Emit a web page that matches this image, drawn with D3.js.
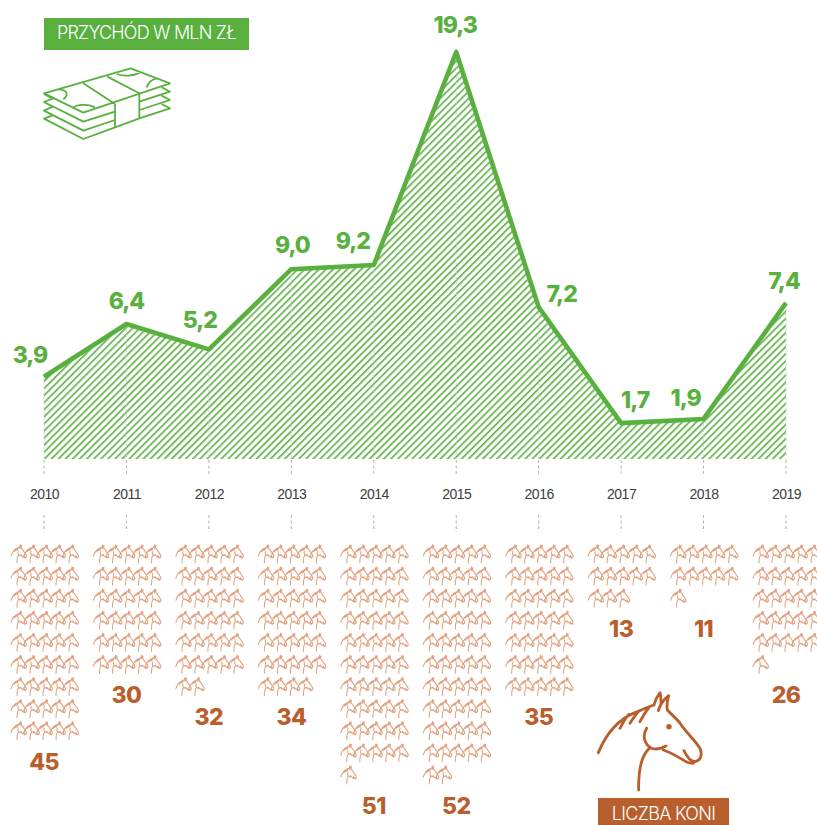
<!DOCTYPE html>
<html lang="pl">
<head>
<meta charset="utf-8">
<title>Przychód i liczba koni</title>
<script src="https://cdn.jsdelivr.net/npm/d3@7"></script>
<style>
  html, body { margin: 0; padding: 0; background: #fff; }
  svg { display: block; font-family: Inter, "Liberation Sans", sans-serif; }
  .tick text { font-size: 14px; fill: #3d3d3d; letter-spacing: -0.5px; }
</style>
</head>
<body>
<svg id="chart" width="817" height="825"></svg>
<script>
// dane
const years = [2010, 2011, 2012, 2013, 2014, 2015, 2016, 2017, 2018, 2019];
const revenue = [3.9, 6.4, 5.2, 9.0, 9.2, 19.3, 7.2, 1.7, 1.9, 7.4];
const horses = [45, 30, 32, 34, 51, 52, 35, 13, 11, 26];

// przesunięcia etykiet względem punktu linii
const labelShift = [[-14, -20], [0, -21], [-9, -28], [1, -22], [-21, -22], [-1, -25], [23, -11], [14, -21], [-18, -19], [-2, -20]];

const GREEN = "#59b03f";
const RUST = "#b95f2e";
const PER_ROW = 5;
const ROW_STEP = 22.1;
const HORSE_STEP = 13;
const HORSES_TOP = 545;

const svg = d3.select("#chart");
const x = d3.scalePoint().domain(years).range([44, 786]);
const y = d3.scaleLinear().domain([0, 19.3]).range([459, 52]);

// kreskowanie pod linią
const defs = svg.append("defs");
defs.append("pattern")
  .attr("id", "hatch")
  .attr("patternUnits", "userSpaceOnUse")
  .attr("width", 5)
  .attr("height", 5)
  .attr("patternTransform", "rotate(45)")
  .append("rect")
  .attr("width", 1.7)
  .attr("height", 5)
  .attr("fill", "#62b44b");

// koń w układzie dużej ikony
const horsePath = [
  "M55 218C75 170 110 120 165 98C185 90 205 80 222 75",
  "M222 75C226 60 232 48 240 38C243 48 243 60 243 70",
  "M235 92C240 75 252 58 266 47C262 62 260 78 262 90C275 105 290 115 300 130C320 160 345 180 360 205C368 225 362 242 345 245C330 245 318 225 312 212",
  "M250 210C275 218 295 232 310 240C320 248 330 250 340 250",
  "M200 145C185 170 195 195 215 205C230 210 245 205 258 198",
  "M208 205C185 225 175 270 176 330",
  "M120 145C128 130 135 115 147 103",
  "M150 130C158 118 165 105 177 93",
  "M180 125C188 110 195 97 206 84"
].join("");

defs.append("path")
  .attr("id", "horse")
  .attr("d", horsePath)
  .attr("fill", "none")
  .attr("stroke-linecap", "round")
  .attr("stroke-linejoin", "round");

// pole i linia przychodu
const area = d3.area().x((d, i) => x(years[i])).y0(y(0)).y1(d => y(d));
const line = d3.line().x((d, i) => x(years[i])).y(d => y(d));

svg.append("path").datum(revenue).attr("d", area).attr("fill", "url(#hatch)");

svg.append("g")
  .selectAll("line")
  .data(revenue)
  .join("line")
  .attr("x1", (d, i) => x(years[i]))
  .attr("x2", (d, i) => x(years[i]))
  .attr("y1", d => y(d))
  .attr("y2", y(0))
  .attr("stroke", "#cfcfcf")
  .attr("stroke-width", 0.8)
  .attr("stroke-dasharray", "3 2");

svg.append("path")
  .datum(revenue)
  .attr("d", line)
  .attr("fill", "none")
  .attr("stroke", GREEN)
  .attr("stroke-width", 4.6)
  .attr("stroke-linejoin", "round");

svg.append("g")
  .selectAll("text")
  .data(revenue)
  .join("text")
  .attr("x", (d, i) => x(years[i]) + labelShift[i][0])
  .attr("y", (d, i) => y(d) + labelShift[i][1])
  .attr("text-anchor", "middle")
  .attr("dominant-baseline", "middle")
  .attr("font-size", 23)
  .attr("font-weight", 800)
  .attr("letter-spacing", -1)
  .attr("fill", GREEN)
  .text(d => d.toFixed(1).replace(".", ","));

// oś lat
const axis = d3.axisBottom(x).tickSize(0).tickPadding(0).tickFormat(d3.format("d"));
const axisG = svg.append("g").attr("transform", "translate(0,494)").call(axis);
axisG.select(".domain").remove();
axisG.selectAll("text").attr("dy", "0.35em").attr("y", 0);

[[460, 476], [515, 532]].forEach(([a, b]) => {
  svg.append("g")
    .selectAll("line")
    .data(years)
    .join("line")
    .attr("x1", d => x(d))
    .attr("x2", d => x(d))
    .attr("y1", a)
    .attr("y2", b)
    .attr("stroke", "#a9a9a9")
    .attr("stroke-width", 0.9)
    .attr("stroke-dasharray", "3 2.5");
});

// konie: po 5 w rzędzie
const cols = svg.append("g")
  .selectAll("g")
  .data(horses)
  .join("g")
  .attr("transform", (d, i) => `translate(${x(years[i])},0)`);

cols.selectAll("use")
  .data(d => d3.range(d))
  .join("use")
  .attr("href", "#horse")
  .attr("transform", k => {
    const col = k % PER_ROW;
    const row = Math.floor(k / PER_ROW);
    const sx = -33 + HORSE_STEP * col;
    const sy = HORSES_TOP + ROW_STEP * row;
    return `translate(${sx - 55 * 0.05},${sy - 38 * 0.061}) scale(0.05,0.061)`;
  })
  .attr("stroke", "#e2a27f")
  .attr("stroke-width", 21)
  .attr("fill", "none");

cols.append("text")
  .attr("y", d => 564.5 + ROW_STEP * Math.ceil(d / PER_ROW))
  .attr("text-anchor", "middle")
  .attr("dominant-baseline", "middle")
  .attr("font-size", 23)
  .attr("font-weight", 800)
  .attr("letter-spacing", -0.6)
  .attr("fill", RUST)
  .text(d => d);

// duży koń i podpis
svg.append("use")
  .attr("href", "#horse")
  .attr("transform", "translate(580,680) scale(0.3333)")
  .attr("stroke", RUST)
  .attr("stroke-width", 8.5)
  .attr("fill", "none");
svg.append("circle").attr("cx", 669).attr("cy", 726.7).attr("r", 2.7).attr("fill", RUST);

svg.append("rect").attr("x", 598).attr("y", 798).attr("width", 131).attr("height", 27).attr("fill", RUST);
svg.append("text")
  .attr("x", 663.5)
  .attr("y", 815)
  .attr("text-anchor", "middle")
  .attr("dominant-baseline", "middle")
  .attr("font-size", 18)
  .attr("font-weight", 300)
  .attr("letter-spacing", -0.7)
  .attr("fill", "#fff")
  .text("LICZBA KONI");

// nagłówek przychodu
svg.append("rect").attr("x", 44).attr("y", 18).attr("width", 205).attr("height", 32).attr("fill", GREEN);
svg.append("text")
  .attr("x", 146.5)
  .attr("y", 34)
  .attr("text-anchor", "middle")
  .attr("dominant-baseline", "middle")
  .attr("font-size", 18)
  .attr("font-weight", 300)
  .attr("letter-spacing", -0.8)
  .attr("fill", "#fff")
  .text("PRZYCHÓD W MLN ZŁ");

// ikona banknotów
const money = [
  "M132 280L392 205L510 250L250 338Z",
  "M250 250L345 312M322 230L418 280",
  "M132 282L158 296L132 306L250 365L345 335",
  "M132 306L158 320L132 332L250 392L345 360",
  "M132 332L158 346L132 356L250 417L345 382L418 355L510 325L485 312",
  "M345 312V382M418 280V355",
  "M418 305L510 275L485 262M418 330L510 300L485 287",
  "M175 268C205 270 205 285 190 298",
  "M218 325C230 312 265 312 285 322",
  "M350 222C370 230 400 228 420 218",
  "M440 262C445 248 455 238 470 236"
].join("");
svg.append("path")
  .attr("d", money)
  .attr("transform", "scale(0.3333)")
  .attr("fill", "none")
  .attr("stroke", GREEN)
  .attr("stroke-width", 5.4)
  .attr("stroke-linejoin", "round");
</script>
</body>
</html>
